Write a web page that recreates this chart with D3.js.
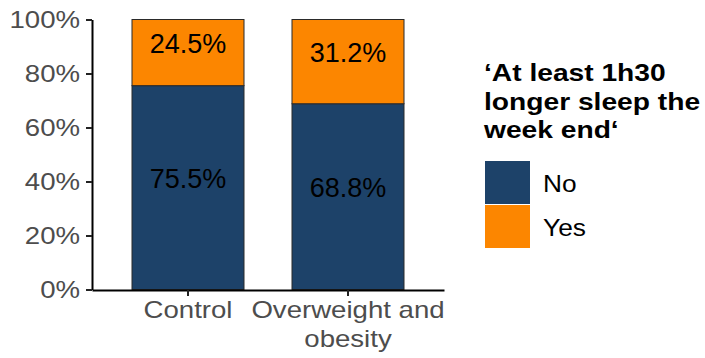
<!DOCTYPE html>
<html>
<head>
<meta charset="utf-8">
<script src="https://cdn.jsdelivr.net/npm/d3@7"></script>
<style>
  html, body { margin: 0; padding: 0; background: #fff; }
  text { font-family: "Liberation Sans", Arial, Helvetica, sans-serif; }
</style>
</head>
<body>
<svg id="chart" width="705" height="358"></svg>
<script>
// Share of respondents sleeping at least 1h30 longer at the weekend, by group
const categories = ["Control", "Overweight and obesity"];
const categoryLines = [["Control"], ["Overweight and", "obesity"]];
const seriesNames = ["No", "Yes"];
const noValues = [75.5, 68.8];
const yesValues = [24.5, 31.2];
const yTicks = [0, 20, 40, 60, 80, 100];
const legendTitle = ["‘At least 1h30", "longer sleep the", "week end‘"];

const colors = { No: "#1D4269", Yes: "#FC8600" };
const stretch = 1.2;   // horizontal widening used for axis type

const svg = d3.select("#chart");

const x = d3.scaleBand()
  .domain(categories)
  .range([92, 444])
  .paddingInner(0.3)
  .paddingOuter(0.25);

const y = d3.scaleLinear()
  .domain([0, 100])
  .range([289.5, 19.5]);

// stacked segments: "No" at the bottom, "Yes" on top
const rows = categories.map((c, i) => ({ category: c, No: noValues[i], Yes: yesValues[i] }));
const stack = d3.stack().keys(seriesNames);
const layers = stack(rows);

const barG = svg.append("g");
layers.forEach(layer => {
  const key = layer.key;
  barG.selectAll(null)
    .data(layer)
    .join("rect")
    .attr("x", d => x(d.data.category))
    .attr("width", x.bandwidth())
    .attr("y", d => y(d[1]))
    .attr("height", d => y(d[0]) - y(d[1]))
    .attr("fill", colors[key])
    .attr("stroke", "#2a2a2a")
    .attr("stroke-width", 1);

  // value label, baseline at the middle of its segment
  barG.selectAll(null)
    .data(layer)
    .join("text")
    .attr("x", d => x(d.data.category) + x.bandwidth() / 2)
    .attr("y", d => y((d[0] + d[1]) / 2))
    .attr("text-anchor", "middle")
    .attr("font-size", 27)
    .attr("fill", "#000")
    .text(d => (d[1] - d[0]).toFixed(1) + "%");
});

// y axis
const yAxis = svg.append("g")
  .attr("transform", "translate(92,0)")
  .call(d3.axisLeft(y)
    .tickValues(yTicks)
    .tickFormat(d => d + "%")
    .tickSize(6)
    .tickSizeOuter(0));
yAxis.select(".domain").attr("stroke", "#000").attr("stroke-width", 2);
yAxis.selectAll(".tick line").attr("stroke", "#222").attr("stroke-width", 2);
yAxis.selectAll(".tick text")
  .attr("font-size", 23)
  .attr("font-family", "Liberation Sans, Arial, sans-serif")
  .attr("fill", "#4D4D4D")
  .attr("x", -12 / stretch)
  .attr("dy", "0.33em")
  .attr("transform", `scale(${stretch},1)`);

// x axis
const xAxis = svg.append("g")
  .attr("transform", "translate(0,290)")
  .call(d3.axisBottom(x).tickSize(6).tickSizeOuter(0));
xAxis.select(".domain").attr("stroke", "#000").attr("stroke-width", 2);
xAxis.selectAll(".tick line").attr("stroke", "#222").attr("stroke-width", 2);
xAxis.selectAll(".tick text").each(function(d, i) {
  const t = d3.select(this);
  t.text(null)
    .attr("font-size", 23)
    .attr("font-family", "Liberation Sans, Arial, sans-serif")
    .attr("fill", "#4D4D4D")
    .attr("y", 28)
    .attr("dy", 0)
    .attr("transform", `scale(${stretch},1)`);
  categoryLines[i].forEach((line, k) => {
    t.append("tspan")
      .attr("x", 0)
      .attr("dy", k === 0 ? 0 : 29)
      .text(line);
  });
});

// legend
const legend = svg.append("g");
const titleText = legend.append("text")
  .attr("transform", `translate(484,81) scale(1.2,1)`)
  .attr("font-size", 23.5)
  .attr("font-weight", "bold")
  .attr("fill", "#000");
legendTitle.forEach((line, k) => {
  titleText.append("tspan")
    .attr("x", 0)
    .attr("dy", k === 0 ? 0 : 28.7)
    .text(line);
});

const keyH = 44, keyTop = 161;
seriesNames.forEach((name, i) => {
  legend.append("rect")
    .attr("x", 485)
    .attr("y", keyTop + i * keyH)
    .attr("width", 45)
    .attr("height", keyH - 1)
    .attr("fill", colors[name]);
  legend.append("text")
    .attr("transform", `translate(543,${keyTop + i * keyH + 30.5}) scale(1.12,1)`)
    .attr("font-size", 23.5)
    .attr("fill", "#000")
    .text(name);
});
</script>
</body>
</html>
